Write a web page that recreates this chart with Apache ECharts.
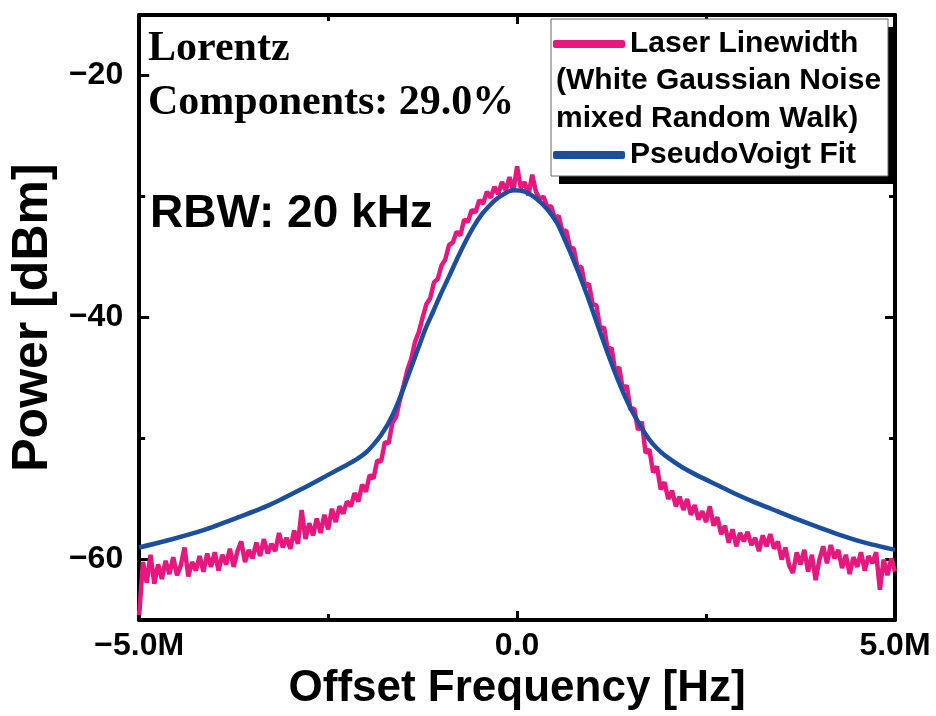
<!DOCTYPE html>
<html>
<head>
<meta charset="utf-8">
<script src="https://cdn.jsdelivr.net/npm/echarts@6/dist/echarts.min.js"></script>
<style>
  html, body { margin: 0; padding: 0; background: #fff; }
  #chart { width: 936px; height: 716px; }
</style>
</head>
<body>
<div id="chart"></div>
<script>
// ---- data (frequency in MHz offset, power in dBm) ----
const freqStartM = -5.0;
const freqStepM = 0.05;
const laserPower = [
  -64.6,-60.2,-61.9,-59.6,-62.0,-60.4,-61.6,-60.1,-61.2,-59.8,
  -61.3,-60.5,-59.0,-61.4,-60.2,-60.9,-59.7,-61.0,-59.5,-60.6,
  -59.4,-60.9,-59.6,-60.4,-59.1,-60.6,-59.3,-58.5,-60.2,-59.2,
  -59.9,-58.6,-59.7,-58.3,-59.5,-58.7,-59.3,-57.8,-59.0,-58.2,
  -59.1,-57.6,-58.7,-55.9,-58.3,-57.0,-58.0,-56.6,-57.8,-56.3,
  -57.5,-55.8,-56.9,-55.6,-56.2,-55.2,-55.6,-54.5,-55.2,-53.8,
  -54.4,-53.0,-53.3,-51.8,-51.9,-50.3,-50.4,-48.7,-48.2,-46.8,
  -45.6,-44.3,-43.4,-42.0,-41.2,-40.0,-38.9,-38.4,-37.1,-36.8,
  -35.7,-35.2,-34.0,-33.8,-32.9,-33.2,-31.9,-32.1,-31.1,-31.3,
  -30.3,-30.6,-29.6,-30.1,-29.2,-29.8,-28.8,-29.5,-28.4,-29.6,
  -27.5,-29.3,-28.8,-29.9,-28.2,-29.6,-30.2,-30.0,-30.9,-30.8,
  -31.8,-31.6,-32.9,-32.8,-34.2,-34.3,-35.9,-35.8,-37.4,-37.2,
  -38.9,-39.0,-41.0,-40.8,-42.7,-42.5,-44.5,-44.1,-46.0,-45.6,
  -47.6,-47.5,-49.3,-48.6,-51.2,-50.9,-52.8,-52.3,-54.2,-53.6,
  -55.0,-54.3,-55.6,-54.8,-55.9,-55.0,-56.3,-55.5,-56.7,-56.0,
  -56.9,-55.6,-57.2,-56.5,-57.9,-57.2,-58.6,-57.5,-58.9,-57.8,
  -58.5,-57.7,-58.8,-58.2,-59.3,-58.0,-58.9,-57.9,-59.1,-58.5,
  -60.0,-59.0,-60.5,-61.1,-59.4,-60.4,-59.2,-61.0,-59.6,-61.7,
  -60.0,-58.9,-60.3,-58.8,-59.9,-59.2,-60.7,-59.6,-61.2,-59.8,
  -60.6,-59.4,-60.9,-59.7,-60.3,-59.4,-62.5,-60.0,-61.3,-59.9,
  -61.0
];
const fitFreqM = [
  -5.00,-4.59,-4.14,-3.71,-3.28,-2.83,-2.50,-2.26,-2.12,-2.00,
  -1.90,-1.80,-1.70,-1.60,-1.50,-1.40,-1.30,-1.21,-1.11,-1.02,
  -0.90,-0.79,-0.68,-0.58,-0.47,-0.36,-0.26,-0.15,-0.05,0.10,
  0.26,0.40,0.53,0.63,0.72,0.82,0.92,1.02,1.13,1.25,
  1.36,1.47,1.58,1.68,1.79,1.90,2.00,2.18,2.37,2.67,
  2.90,3.10,3.36,3.72,4.22,4.60,5.00
];
const fitPower = [
  -59.0,-58.36,-57.55,-56.56,-55.5,-54.1,-53.0,-52.2,-51.7,-51.15,
  -50.5,-49.7,-48.7,-47.4,-45.8,-44.1,-42.4,-40.9,-39.5,-38.2,
  -36.6,-35.1,-33.7,-32.55,-31.5,-30.72,-30.15,-29.7,-29.48,-29.6,
  -30.2,-31.05,-32.2,-33.55,-34.85,-36.4,-38.05,-39.8,-41.75,-43.8,
  -45.55,-47.1,-48.4,-49.45,-50.4,-51.1,-51.6,-52.35,-53.0,-53.9,
  -54.6,-55.15,-55.8,-56.7,-57.85,-58.6,-59.2
];
const yMajorTicks = [-60, -40, -20];
const yMinorTicks = [-50, -30];
const xTickLabels = { '-5000000': '\u22125.0M', '0': '0.0', '5000000': '5.0M' };
const seriesNames = ['Laser Linewidth', 'PseudoVoigt Fit'];
const legendExtraLines = ['(White Gaussian Noise', 'mixed Random Walk)'];

// ---- build ----
const PINK = '#E8177E';
const BLUE = '#1C4E9E';
const SANS = '"Liberation Sans", Arial, sans-serif';
const SERIF = '"Liberation Serif", "Times New Roman", serif';

const laserData = laserPower.map((p, i) => [(freqStartM + i * freqStepM) * 1e6, p]);
const fitData = fitFreqM.map((f, i) => [f * 1e6, fitPower[i]]);

const axisLine = { show: true, onZero: false, lineStyle: { color: '#000', width: 4 } };
const noLine = { show: false, onZero: false };
const tickStyle = { color: '#000', width: 3 };

const chart = echarts.init(document.getElementById('chart'), null, { renderer: 'canvas' });
chart.setOption({
  animation: false,
  backgroundColor: '#fff',
  grid: { left: 137, right: 41, top: 15, bottom: 90 },
  xAxis: [
    {
      type: 'value', position: 'bottom', min: -5e6, max: 5e6, interval: 5e6,
      axisLine: axisLine,
      axisTick: { show: true, inside: true, length: 9, lineStyle: tickStyle },
      minorTick: { show: true, splitNumber: 2, length: 6, lineStyle: tickStyle },
      splitLine: { show: false }, minorSplitLine: { show: false },
      axisLabel: {
        margin: 10, color: '#000', fontSize: 32, fontWeight: 'bold', fontFamily: SANS,
        formatter: v => xTickLabels[String(v)] ?? ''
      },
      name: 'Offset Frequency [Hz]', nameLocation: 'middle', nameGap: 43,
      nameTextStyle: { color: '#000', fontSize: 44, fontWeight: 'bold', fontFamily: SANS }
    },
    {
      type: 'value', position: 'top', min: -5e6, max: 5e6, interval: 5e6,
      axisLine: axisLine,
      axisTick: { show: true, inside: true, length: 9, lineStyle: tickStyle },
      minorTick: { show: true, splitNumber: 2, length: 6, lineStyle: tickStyle },
      splitLine: { show: false }, axisLabel: { show: false }
    }
  ],
  yAxis: [
    {
      type: 'value', position: 'left', min: -65, max: -15,
      axisLine: axisLine,
      axisTick: { show: true, inside: true, length: 10, lineStyle: tickStyle, customValues: yMajorTicks },
      splitLine: { show: false },
      axisLabel: {
        margin: 16, color: '#000', fontSize: 32, fontWeight: 'bold', fontFamily: SANS,
        customValues: yMajorTicks, formatter: v => String(v).replace('-', '\u2212')
      },
      name: 'Power [dBm]', nameLocation: 'middle', nameGap: 74, nameRotate: 90,
      nameTextStyle: { color: '#000', fontSize: 50, fontWeight: 'bold', fontFamily: SANS }
    },
    {
      type: 'value', position: 'left', min: -65, max: -15,
      axisLine: noLine,
      axisTick: { show: true, inside: true, length: 6, lineStyle: tickStyle, customValues: yMinorTicks },
      splitLine: { show: false }, axisLabel: { show: false }
    },
    {
      type: 'value', position: 'right', min: -65, max: -15,
      axisLine: axisLine,
      axisTick: { show: true, inside: true, length: 10, lineStyle: tickStyle, customValues: yMajorTicks },
      splitLine: { show: false }, axisLabel: { show: false }
    },
    {
      type: 'value', position: 'right', min: -65, max: -15,
      axisLine: noLine,
      axisTick: { show: true, inside: true, length: 6, lineStyle: tickStyle, customValues: yMinorTicks },
      splitLine: { show: false }, axisLabel: { show: false }
    }
  ],
  legend: {
    orient: 'vertical', left: 553, top: 25, itemGap: 73, padding: 0,
    itemWidth: 72, itemHeight: 8, icon: 'roundRect',
    data: seriesNames,
    textStyle: { color: '#000', fontSize: 30, fontWeight: 'bold', fontFamily: SANS, lineHeight: 38 },
    z: 20
  },
  graphic: [
    { type: 'rect', z: 15, shape: { x: 559, y: 27, width: 337, height: 157 }, style: { fill: '#000' } },
    { type: 'rect', z: 16, shape: { x: 551, y: 19, width: 337, height: 157 }, style: { fill: '#fff', stroke: '#666', lineWidth: 1 } },
    { type: 'text', z: 21, left: 556, top: 81 - 19, style: { text: legendExtraLines[0], fill: '#000', font: 'bold 30px ' + SANS, lineHeight: 38 } },
    { type: 'text', z: 21, left: 556, top: 119 - 19, style: { text: legendExtraLines[1], fill: '#000', font: 'bold 30px ' + SANS, lineHeight: 38 } },
    { type: 'text', z: 21, left: 148, top: 49 - 24, style: { text: 'Lorentz', fill: '#000', font: 'bold 42px ' + SERIF, lineHeight: 48 } },
    { type: 'text', z: 21, left: 148, top: 103 - 24, style: { text: 'Components: 29.0%', fill: '#000', font: 'bold 42px ' + SERIF, lineHeight: 48 } },
    { type: 'text', z: 21, left: 150, top: 214 - 25, style: { text: 'RBW: 20 kHz', fill: '#000', font: 'bold 46px ' + SANS, lineHeight: 50 } }
  ],
  series: [
    {
      name: seriesNames[0], type: 'line', data: laserData, showSymbol: false, symbol: 'none',
      color: PINK, lineStyle: { color: PINK, width: 4.5 }, z: 3, silent: true
    },
    {
      name: seriesNames[1], type: 'line', data: fitData, showSymbol: false, symbol: 'none', smooth: 0.25,
      color: BLUE, lineStyle: { color: BLUE, width: 4.5 }, z: 4, silent: true
    }
  ]
});
</script>
</body>
</html>
